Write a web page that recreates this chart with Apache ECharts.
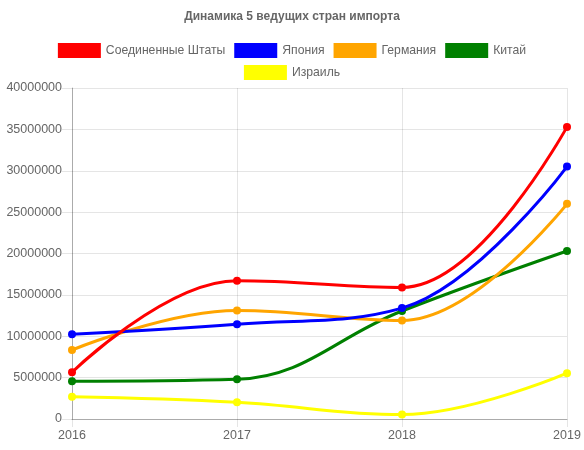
<!DOCTYPE html>
<html>
<head>
<meta charset="utf-8">
<script src="https://cdn.jsdelivr.net/npm/echarts@6/dist/echarts.min.js"></script>
<style>html,body{margin:0;padding:0;background:#fff}#c{width:584px;height:450px}</style>
</head>
<body>
<div id="c"></div>
<script>
var years = ['2016', '2017', '2018', '2019'];
var usa = [5640000, 16700000, 15900000, 35300000];
var japan = [10230000, 11440000, 13400000, 30500000];
var germany = [8340000, 13100000, 11900000, 26000000];
var china = [4550000, 4790000, 13050000, 20300000];
var israel = [2700000, 2030000, 530000, 5530000];
var names = ['Соединенные Штаты', 'Япония', 'Германия', 'Китай', 'Израиль'];
var colors = ['#ff0000', '#0000ff', '#ffa500', '#008000', '#ffff00'];
var values = [usa, japan, germany, china, israel];

var font = 'Arial, "Liberation Sans", Helvetica, sans-serif';
var series = names.map(function (n, i) {
  return {
    name: n, type: 'line', data: values[i], smooth: 0.4,
    symbol: 'circle', symbolSize: 8, showSymbol: true,
    color: colors[i],
    lineStyle: { width: 3, color: colors[i] },
    itemStyle: { color: colors[i] },
    z: 10 - i
  };
});
var legendCommon = {
  left: 'center', icon: 'rect', itemWidth: 43, itemHeight: 15, itemGap: 9,
  textStyle: { color: '#666', fontSize: 12.2, fontFamily: font },
  selectedMode: false
};
var chart = echarts.init(document.getElementById('c'), null, { renderer: 'canvas' });
chart.setOption({
  animation: false,
  backgroundColor: '#fff',
  title: {
    text: 'Динамика 5 ведущих стран импорта', left: 'center', top: 6,
    textStyle: { color: '#666', fontSize: 12, fontWeight: 'bold', fontFamily: font }
  },
  legend: [
    Object.assign({ top: 38, data: names.slice(0, 4) }, legendCommon),
    Object.assign({ top: 60, data: names.slice(4) }, legendCommon)
  ],
  grid: { left: 72, right: 17, top: 88, bottom: 31, containLabel: false },
  xAxis: {
    type: 'category', data: years, boundaryGap: false,
    axisLine: { lineStyle: { color: 'rgba(0,0,0,0.25)', width: 1 } },
    axisTick: { show: true, length: 8, alignWithLabel: true, lineStyle: { color: 'rgba(0,0,0,0.1)' } },
    axisLabel: { color: '#666', fontSize: 12.5, fontFamily: font, margin: 10 },
    splitLine: { show: true, lineStyle: { color: 'rgba(0,0,0,0.1)' } }
  },
  yAxis: {
    type: 'value', min: 0, max: 40000000, interval: 5000000,
    axisLine: { show: true, lineStyle: { color: 'rgba(0,0,0,0.25)', width: 1 } },
    axisTick: { show: true, length: 10, lineStyle: { color: 'rgba(0,0,0,0.1)' } },
    axisLabel: { color: '#666', fontSize: 12.5, fontFamily: font, margin: 10, formatter: function (v) { return String(v); } },
    splitLine: { show: true, lineStyle: { color: 'rgba(0,0,0,0.1)' } }
  },
  series: series
});
</script>
</body>
</html>
